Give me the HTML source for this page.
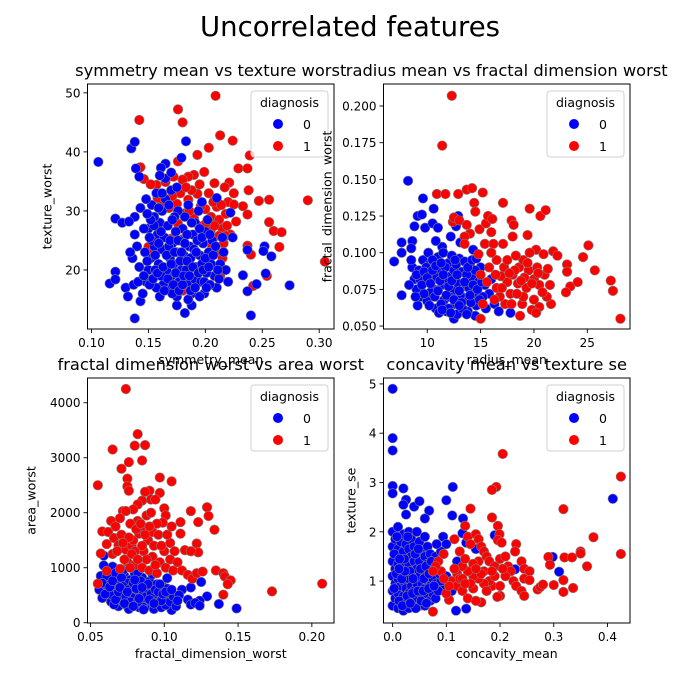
<!DOCTYPE html>
<html><head><meta charset="utf-8">
<style>
html,body{margin:0;padding:0;background:#fff;}
svg{display:block;font-family:"DejaVu Sans","Liberation Sans",sans-serif;}
</style></head>
<body>
<svg id="fig" width="700" height="700" viewBox="0 0 700 700">
<text x="350" y="36" text-anchor="middle" font-size="27.5" fill="#000">Uncorrelated features</text>
</svg>
<script>
// ---------- Panel 1: symmetry_mean vs texture_worst ----------
const p1Blue = [[0.106,38.3],[0.135,40.6],[0.138,41.7],[0.139,37.2],[0.142,35.8],[0.138,29],[0.121,28.7],[0.127,28],[0.133,28.2],[0.116,17.7],[0.121,19.7],[0.121,18.4],[0.130,17],[0.132,15.5],[0.143,14.7],[0.138,11.8],[0.175,14],[0.182,12.7],[0.188,14],[0.183,41.8],[0.179,39],[0.165,38],[0.161,37.3],[0.240,12.3],[0.274,17.4],[0.245,17.6],[0.237,16.4],[0.253,19.4],[0.252,24],[0.251,23.2],[0.258,22.3],[0.237,23.4],[0.233,19.1],[0.224,25.5],[0.222,29.7],[0.21,32.2],[0.197,31.5],
[0.145,16],[0.148,18],[0.15,20],[0.152,22],[0.155,24],[0.158,26],[0.16,28],[0.162,30],[0.165,32],[0.168,17],[0.17,19],[0.172,21],[0.175,23],[0.178,25],[0.18,27],[0.182,29],[0.185,31],[0.188,16],[0.19,18.5],[0.192,20.5],[0.195,22.5],[0.198,24.5],[0.2,26.5],[0.202,28.5],[0.205,21],[0.208,19],[0.21,17],[0.15,27],[0.155,29],[0.157,33],[0.16,15.5],[0.163,17.5],[0.166,20],[0.169,22],[0.171,24.5],[0.174,26.5],[0.176,30],[0.179,20],[0.181,22.5],[0.184,17.5],[0.186,24],[0.189,26],[0.191,28],[0.194,30],[0.196,18],[0.199,16],[0.203,23],[0.206,25],[0.213,21],[0.216,23],[0.22,18],[0.218,20],[0.147,23],[0.153,25],[0.159,21],[0.161,19],[0.164,25.5],[0.167,27.5],[0.173,29],[0.177,18],[0.183,20],[0.187,22],[0.193,25],[0.197,21],[0.201,19.5],[0.157,17],[0.153,31],[0.165,35.5],[0.17,33.5],[0.16,36],[0.175,15.5],[0.185,15],[0.195,15.5],[0.142,20.5],[0.14,24],[0.138,26],[0.136,22],[0.143,30.5],[0.148,32],[0.134,23],[0.137,17.5],[0.141,18],[0.146,27],[0.151,17.5],[0.156,20],[0.162,23.5],[0.168,24],[0.171,16],[0.178,21.5],[0.184,26],[0.19,23.5],[0.199,18],[0.204,17.5],[0.212,18.5],[0.215,25.5],
[0.146,19],[0.149,21.5],[0.151,25.5],[0.154,18.5],[0.156,22.5],[0.158,19.5],[0.159,24.5],[0.161,26.5],[0.163,20.5],[0.164,16.5],[0.166,22.5],[0.167,18.5],[0.169,25],[0.17,21],[0.172,17.5],[0.173,23],[0.174,19.5],[0.176,25],[0.177,16.5],[0.179,23],[0.18,17.5],[0.181,19],[0.182,24.5],[0.184,21.5],[0.186,19],[0.187,16.5],[0.188,28],[0.189,20.5],[0.191,17],[0.192,23],[0.194,19.5],[0.195,27],[0.197,25.5],[0.198,20],[0.2,22],[0.201,17],[0.203,20.5],[0.204,26],[0.207,22.5],[0.209,24],[0.211,20],[0.155,27.5],[0.162,33],[0.168,31],[0.171,28.5],[0.159,30.5],[0.152,28.5],[0.149,29.5],[0.17,36.5],[0.175,34]];
const p1Red = [[0.142,45.4],[0.176,47.2],[0.180,45],[0.209,49.5],[0.213,42.8],[0.224,41.9],[0.203,40.7],[0.239,39.4],[0.176,38.4],[0.193,39.5],[0.143,37.4],[0.146,35.4],[0.229,37.2],[0.237,37.2],[0.290,31.8],[0.305,21.4],[0.256,31.9],[0.247,31.7],[0.238,33.5],[0.233,30.8],[0.237,29.4],[0.227,28.2],[0.256,28.1],[0.260,26.6],[0.267,26.4],[0.265,23.9],[0.237,24.1],[0.240,22.6],[0.254,19],[0.242,17.3],[0.225,33],[0.221,34.8],[0.217,34],[0.208,34.7],[0.199,36.6],[0.190,36.1],[0.185,35.8],[0.180,35.3],[0.172,35.8],[0.165,34.9],[0.157,34.4],[0.152,34.5],[0.175,31.2],[0.185,31.9],[0.193,32.9],[0.200,30.3],[0.205,29],[0.210,30.7],[0.212,28.5],[0.215,27],[0.218,29.5],[0.212,25.8],[0.216,24.5],[0.210,23],[0.205,26.9],[0.198,27.5],[0.190,28.7],[0.182,29.6],[0.176,27.8],[0.170,25.3],[0.180,25.2],[0.150,23.9],[0.155,23.2],[0.213,19],[0.180,16.5],[0.220,31.5],[0.225,31.1],[0.196,30.8],[0.168,30.5],
[0.178,33],[0.188,33.5],[0.195,34.5],[0.203,33],[0.207,31.5],[0.214,31],[0.219,27.5],[0.222,26],[0.208,27.5],[0.201,28],[0.186,30],[0.171,32.5],[0.163,31.5],[0.158,32.2],[0.215,22],[0.218,25.8],[0.206,24],[0.183,34]];
const p1XTicks = [0.10,0.15,0.20,0.25,0.30];
const p1XTickLabels = ["0.10","0.15","0.20","0.25","0.30"];
const p1YTicks = [20,30,40,50];
const p1YTickLabels = ["20","30","40","50"];

// ---------- Panel 2: radius_mean vs fractal_dimension_worst ----------
const p2Blue = [[8.2,0.149],[9.6,0.137],[10.6,0.130],[12.9,0.125],[9.1,0.125],[9.5,0.126],[8.8,0.118],[9.8,0.117],[10.5,0.120],[11.0,0.117],[12.7,0.118],[12.2,0.111],[11.4,0.104],[10.8,0.108],[7.6,0.107],[7.6,0.100],[6.9,0.094],[8.6,0.108],[8.5,0.103],[7.6,0.071],[14.3,0.102],[13.1,0.107],[16.3,0.065],[16.7,0.060],[17.8,0.059],[14.5,0.057],[12.5,0.055],[15.8,0.072],[16.0,0.082],
[8.6,0.090],[8.8,0.082],[9.0,0.075],[9.2,0.088],[9.4,0.070],[9.6,0.095],[9.8,0.080],[10.0,0.067],[10.2,0.092],[10.4,0.085],[10.6,0.075],[10.8,0.062],[11.0,0.097],[11.2,0.088],[11.4,0.078],[11.6,0.068],[11.8,0.060],[12.0,0.093],[12.2,0.084],[12.4,0.074],[12.6,0.065],[12.8,0.058],[13.0,0.096],[13.2,0.087],[13.4,0.077],[13.6,0.068],[13.8,0.060],[14.0,0.092],[14.2,0.083],[14.4,0.072],[14.6,0.064],[14.8,0.080],[15.0,0.090],[15.2,0.070],[15.4,0.078],[9.1,0.064],[9.9,0.090],[10.3,0.073],[10.9,0.083],[11.3,0.065],[11.7,0.090],[12.1,0.070],[12.5,0.088],[12.9,0.079],[13.3,0.062],[13.7,0.085],[14.1,0.066],[10.1,0.100],[11.5,0.100],[12.3,0.098],[13.5,0.094],[8.3,0.078],[8.5,0.095],[9.3,0.082],[10.7,0.070],[11.9,0.080],[13.1,0.071],[14.5,0.088],[15.5,0.062],[11.1,0.059],[12.7,0.092],[14.9,0.068],[10.5,0.095],[12.0,0.062],[13.9,0.076],
[9.0,0.085],[9.5,0.078],[9.7,0.087],[10.0,0.083],[10.3,0.079],[10.5,0.088],[10.8,0.091],[11.0,0.074],[11.2,0.081],[11.5,0.085],[11.8,0.071],[12.0,0.077],[12.3,0.081],[12.5,0.068],[12.8,0.085],[13.0,0.074],[13.2,0.066],[13.5,0.080],[13.8,0.090],[14.0,0.071],[14.3,0.078],[14.7,0.075],[10.2,0.064],[11.4,0.061],[12.2,0.059],[13.0,0.064],[13.7,0.058],[9.7,0.072],[11.3,0.093],[12.6,0.095],[14.2,0.095],[8.9,0.070],[15.1,0.080],[14.6,0.096]];
const p2Red = [[12.3,0.207],[11.4,0.173],[10.9,0.140],[11.7,0.140],[12.9,0.140],[13.7,0.143],[14.2,0.144],[15.2,0.141],[14.4,0.134],[14.5,0.128],[12.4,0.121],[12.5,0.124],[13.0,0.122],[13.7,0.119],[14.0,0.113],[13.5,0.111],[14.9,0.116],[15.5,0.120],[15.7,0.125],[16.1,0.123],[16.0,0.114],[15.4,0.106],[16.2,0.106],[14.8,0.099],[13.5,0.106],[17.1,0.134],[17.9,0.122],[18.1,0.119],[18.0,0.111],[17.1,0.106],[19.4,0.112],[19.6,0.130],[20.6,0.125],[21.1,0.129],[20.2,0.102],[20.9,0.099],[21.8,0.101],[22.2,0.098],[23.1,0.092],[23.1,0.087],[24.6,0.097],[25.1,0.105],[25.7,0.088],[23.4,0.077],[23.0,0.073],[24.1,0.080],[27.2,0.081],[27.4,0.074],[28.1,0.055],[21.6,0.065],[21.2,0.070],[20.5,0.063],[19.8,0.061],[20.2,0.059],[18.7,0.057],[18.9,0.065],[17.3,0.065],[16.8,0.070],[16.5,0.076],[17.5,0.080],[18.0,0.085],[18.6,0.090],[19.0,0.095],[19.5,0.088],[20.0,0.082],[20.5,0.078],[21.0,0.085],[19.3,0.076],[18.5,0.079],[17.2,0.090],[16.5,0.095],[15.8,0.090],[15.0,0.085],[15.2,0.065],[15.0,0.055],[21.3,0.089],[20.3,0.090],[19.6,0.100],[18.3,0.098],[16.0,0.100],[17.8,0.072],[19.0,0.070],[20.8,0.073],[18.2,0.088],[16.9,0.084],
[17.0,0.076],[17.7,0.086],[18.4,0.072],[19.1,0.083],[19.8,0.079],[20.4,0.086],[16.4,0.085],[17.5,0.095],[18.8,0.081],[20.0,0.068],[21.5,0.078],[15.6,0.080],[16.3,0.068],[19.4,0.093],[17.9,0.065]];
const p2XTicks = [10,15,20,25];
const p2XTickLabels = ["10","15","20","25"];
const p2YTicks = [0.050,0.075,0.100,0.125,0.150,0.175,0.200];
const p2YTickLabels = ["0.050","0.075","0.100","0.125","0.150","0.175","0.200"];

// ---------- Panel 3: fractal_dimension_worst vs area_worst ----------
const p3Blue = [[0.059,1220],[0.059,1040],[0.065,1020],[0.102,810],[0.125,740],[0.118,640],[0.129,480],[0.124,400],[0.137,340],[0.149,260],[0.116,420],[0.118,330],[0.121,360],[0.124,310],[0.107,440],[0.105,230],[0.112,600],
[0.056,600],[0.057,850],[0.058,450],[0.060,700],[0.062,550],[0.063,800],[0.064,380],[0.066,650],[0.067,900],[0.068,480],[0.069,300],[0.070,750],[0.071,580],[0.072,400],[0.073,850],[0.074,650],[0.075,300],[0.076,500],[0.077,780],[0.078,350],[0.079,600],[0.080,900],[0.081,450],[0.082,700],[0.083,280],[0.084,550],[0.085,820],[0.086,400],[0.087,650],[0.088,300],[0.089,500],[0.090,750],[0.091,380],[0.092,600],[0.093,250],[0.094,450],[0.095,700],[0.096,350],[0.097,550],[0.098,280],[0.099,650],[0.100,450],[0.101,320],[0.103,550],[0.104,380],[0.106,480],[0.108,300],[0.110,500],[0.065,500],[0.070,420],[0.075,720],[0.080,560],[0.085,330],[0.090,620],[0.095,480],[0.061,850],[0.068,620],[0.073,540],[0.078,460],[0.083,640],[0.088,440],[0.093,520],[0.098,400],[0.072,950],[0.082,920],[0.092,880],[0.066,330],[0.076,250],[0.086,240],
[0.058,720],[0.060,520],[0.063,650],[0.065,760],[0.067,420],[0.069,560],[0.071,820],[0.072,660],[0.074,480],[0.076,600],[0.077,380],[0.079,720],[0.081,620],[0.082,380],[0.084,760],[0.086,560],[0.087,460],[0.089,700],[0.091,520],[0.094,600],[0.096,560],[0.099,520],[0.102,620],[0.070,640],[0.075,560],[0.080,780],[0.085,640],[0.090,420],[0.073,350],[0.079,300],[0.083,440],[0.093,350],[0.097,700],[0.101,560],[0.105,600],[0.109,400]];
const p3Red = [[0.074,4250],[0.082,3430],[0.080,3220],[0.087,3230],[0.065,3150],[0.071,2800],[0.076,2920],[0.085,2950],[0.075,2620],[0.075,2480],[0.076,2400],[0.055,2500],[0.097,2640],[0.105,2570],[0.090,2400],[0.087,2380],[0.097,2360],[0.091,2240],[0.094,2240],[0.085,2220],[0.082,2150],[0.079,2060],[0.072,2030],[0.074,2030],[0.129,2100],[0.130,1940],[0.118,2030],[0.123,1830],[0.111,1830],[0.100,2080],[0.101,1950],[0.099,1820],[0.105,1750],[0.134,1690],[0.111,1620],[0.122,1440],[0.114,1320],[0.123,1280],[0.118,1300],[0.058,1660],[0.062,1650],[0.064,1850],[0.067,1750],[0.066,1540],[0.061,1430],[0.057,1260],[0.065,1250],[0.069,1410],[0.074,1330],[0.078,1400],[0.079,1500],[0.083,1620],[0.087,1720],[0.092,1650],[0.096,1600],[0.089,1500],[0.086,1300],[0.092,1200],[0.097,1100],[0.100,1300],[0.104,1450],[0.104,1150],[0.101,1000],[0.106,950],[0.112,950],[0.116,870],[0.119,800],[0.122,900],[0.126,930],[0.135,950],[0.140,900],[0.141,840],[0.145,770],[0.143,700],[0.140,510],[0.173,570],[0.207,710],[0.055,710],[0.061,940],[0.070,980],[0.075,1100],[0.080,1050],[0.085,1000],[0.090,950],[0.095,900],[0.082,1850],[0.077,1800],[0.070,1900],[0.088,1950],[0.095,1800],[0.085,1400],[0.080,1300],[0.073,1150],[0.078,1250],
[0.071,1600],[0.076,1550],[0.081,1700],[0.084,1800],[0.090,1750],[0.093,1400],[0.088,1150],[0.082,1150],[0.077,1000],[0.094,1050],[0.098,1400],[0.102,1600],[0.107,1300],[0.109,1100],[0.068,1300],[0.072,1450],[0.087,1600],[0.091,2000]];
const p3XTicks = [0.05,0.10,0.15,0.20];
const p3XTickLabels = ["0.05","0.10","0.15","0.20"];
const p3YTicks = [0,1000,2000,3000,4000];
const p3YTickLabels = ["0","1000","2000","3000","4000"];

// ---------- Panel 4: concavity_mean vs texture_se ----------
const p4Blue = [[0,4.9],[0,3.9],[0,3.65],[0,2.93],[0,2.78],[0.02,2.88],[0.025,2.65],[0.02,2.55],[0.04,2.51],[0.05,2.62],[0.025,2.35],[0.068,2.43],[0.06,2.27],[0.1,2.64],[0.112,2.91],[0.111,2.33],[0.131,2.27],[0.13,1.97],[0.137,1.78],[0.155,1.65],[0.155,1.21],[0.19,1.93],[0.228,1.24],[0.298,1.49],[0.31,1.19],[0.41,2.67],[0.118,0.4],[0.137,0.44],[0.094,1.9],[0.1,1.75],[0.12,1.4],[0.1,1.1],[0.11,0.8],[0.095,0.9],
[0,0.5],[0,0.8],[0,1.1],[0,1.4],[0,1.7],[0,2.0],[0.005,0.65],[0.005,0.95],[0.005,1.25],[0.005,1.55],[0.005,1.85],[0.01,0.45],[0.01,0.75],[0.01,1.05],[0.01,1.35],[0.01,1.65],[0.01,2.1],[0.015,0.6],[0.015,0.9],[0.015,1.2],[0.015,1.5],[0.015,1.8],[0.02,0.4],[0.02,0.7],[0.02,1.0],[0.02,1.3],[0.02,1.6],[0.02,1.95],[0.025,0.55],[0.025,0.85],[0.025,1.15],[0.025,1.45],[0.025,1.75],[0.03,0.45],[0.03,0.75],[0.03,1.05],[0.03,1.35],[0.03,1.65],[0.03,2.0],[0.035,0.6],[0.035,0.9],[0.035,1.2],[0.035,1.5],[0.035,1.85],[0.04,0.5],[0.04,0.8],[0.04,1.1],[0.04,1.4],[0.04,1.7],[0.045,0.65],[0.045,0.95],[0.045,1.25],[0.045,1.55],[0.045,2.0],[0.05,0.5],[0.05,0.8],[0.05,1.1],[0.05,1.4],[0.05,1.8],[0.055,0.65],[0.055,0.95],[0.055,1.25],[0.055,1.6],[0.06,0.5],[0.06,0.85],[0.06,1.15],[0.06,1.5],[0.06,1.9],[0.065,0.7],[0.065,1.0],[0.065,1.35],[0.065,1.7],[0.07,0.6],[0.07,0.9],[0.07,1.2],[0.07,1.55],[0.075,0.75],[0.075,1.05],[0.08,0.65],[0.08,0.95],[0.08,1.5],[0.085,0.8],[0.09,1.0],[0.09,1.6],
[0.003,0.85],[0.007,1.15],[0.012,0.6],[0.017,1.05],[0.022,1.45],[0.027,0.7],[0.032,1.2],[0.037,0.75],[0.042,1.55],[0.047,0.8],[0.052,1.25],[0.057,0.8],[0.062,1.3],[0.067,0.85],[0.072,1.4],[0.077,0.9],[0.003,1.55],[0.008,1.9],[0.013,1.45],[0.018,0.5],[0.028,1.9],[0.038,1.05],[0.048,1.65],[0.058,1.05],[0.068,1.15],[0.078,1.25],[0.043,0.45],[0.053,0.6],[0.063,0.55],[0.033,0.55],[0.023,1.2],[0.012,1.25],[0.087,1.15],[0.082,1.75]];
const p4Red = [[0.205,3.58],[0.193,2.91],[0.185,2.85],[0.425,3.12],[0.318,2.46],[0.145,2.47],[0.185,2.29],[0.196,2.12],[0.199,1.95],[0.196,1.83],[0.203,1.78],[0.23,1.75],[0.228,1.6],[0.24,1.4],[0.245,1.25],[0.255,1.2],[0.245,1.05],[0.255,1.02],[0.27,0.83],[0.275,0.88],[0.28,0.93],[0.3,0.92],[0.318,1.02],[0.318,0.78],[0.336,0.86],[0.29,1.49],[0.293,1.33],[0.32,1.48],[0.334,1.48],[0.35,1.6],[0.35,1.56],[0.362,1.3],[0.374,1.89],[0.425,1.55],[0.135,2.12],[0.14,1.9],[0.155,1.95],[0.16,1.85],[0.165,1.7],[0.17,1.6],[0.175,1.5],[0.18,1.4],[0.19,1.3],[0.2,1.45],[0.21,1.5],[0.215,1.3],[0.22,1.2],[0.225,1.0],[0.23,0.9],[0.24,0.8],[0.245,0.7],[0.2,0.7],[0.195,0.68],[0.185,0.9],[0.18,1.0],[0.17,0.95],[0.16,1.05],[0.15,1.1],[0.14,1.2],[0.13,1.3],[0.12,1.15],[0.11,1.0],[0.12,0.9],[0.13,0.8],[0.14,0.65],[0.165,0.57],[0.155,0.6],[0.105,0.62],[0.085,1.4],[0.09,1.2],[0.08,1.3],[0.075,1.2],[0.075,0.38],[0.095,1.55],[0.125,1.6],[0.135,1.45],[0.115,1.85],[0.145,1.75],[0.21,1.1],[0.2,0.9],[0.16,1.4],[0.1,0.75],[0.125,1.05],[0.15,0.85],[0.17,1.2],
[0.13,1.05],[0.145,0.95],[0.15,1.35],[0.165,1.15],[0.175,0.8],[0.19,1.1],[0.205,1.25],[0.115,1.25],[0.105,0.9],[0.095,1.05],[0.135,0.95],[0.155,1.25],[0.185,1.2]];
const p4XTicks = [0.0,0.1,0.2,0.3,0.4];
const p4XTickLabels = ["0.0","0.1","0.2","0.3","0.4"];
const p4YTicks = [1,2,3,4,5];
const p4YTickLabels = ["1","2","3","4","5"];

const NS = "http://www.w3.org/2000/svg";
const fig = document.getElementById("fig");
function mk(tag, attrs, parent, txt){
  const e = document.createElementNS(NS, tag);
  for (const k in attrs) e.setAttribute(k, attrs[k]);
  if (txt !== undefined) e.textContent = txt;
  (parent||fig).appendChild(e);
  return e;
}

function panel(cfg){
  const {L,T,W,H,xmin,xmax,ymin,ymax} = cfg;
  const sx = v => L + (v - xmin) / (xmax - xmin) * W;
  const sy = v => T + H - (v - ymin) / (ymax - ymin) * H;
  const g = mk("g", {});
  
  
  const clipId = cfg.name + "-clip";
  const cp = mk("clipPath", {id: clipId}, g);
  mk("rect", {x:L, y:T, width:W, height:H}, cp);
  const pts = mk("g", {"clip-path": "url(#" + clipId + ")"}, g);
  
  
  const draw = (arr, color, nm) => {
    arr.forEach(p => {
      const c = mk("circle", {cx: sx(p[0]), cy: sy(p[1]), r: 4.8, fill: color, stroke: "#808080", "stroke-width": 0.6}, pts);
      
      
    });
  };
  draw(cfg.first, cfg.firstColor, cfg.firstName);
  draw(cfg.second, cfg.secondColor, cfg.secondName);
  const fr = mk("rect", {x:L, y:T, width:W, height:H, fill:"none", stroke:"#000", "stroke-width":1}, g);
  
  
  cfg.xt.forEach((v,i) => {
    const x = sx(v);
    mk("line", {x1:x, x2:x, y1:T+H, y2:T+H+4, stroke:"#000", "stroke-width":0.9}, g);
    const t = mk("text", {x:x, y:T+H+18, "text-anchor":"middle", "font-size":12}, g, cfg.xl[i]);
    
    
  });
  cfg.yt.forEach((v,i) => {
    const y = sy(v);
    mk("line", {x1:L-4, x2:L, y1:y, y2:y, stroke:"#000", "stroke-width":0.9}, g);
    const t = mk("text", {x:L-7, y:y+4.5, "text-anchor":"end", "font-size":12}, g, cfg.yl[i]);
    
    
  });
  const xt = mk("text", {x:L+W/2, y:T+H+35, "text-anchor":"middle", "font-size":12.5}, g, cfg.xlabel);
  
  
  const yx = L - cfg.ylabOff, yy = T+H/2;
  const yt = mk("text", {x:yx, y:yy, "text-anchor":"middle", "font-size":12.5, transform:"rotate(-90 "+yx+" "+yy+")"}, g, cfg.ylabel);
  
  
  const tt = mk("text", {x:L+W/2, y:T-8, "text-anchor":"middle", "font-size":16.3}, g, cfg.title);
  
  
  // legend
  const lg = mk("g", {}, g);
  
  
  const lx = L + W - 83, ly = T + 7;
  mk("rect", {x:lx, y:ly, width:77, height:66, rx:3, fill:"#fff", "fill-opacity":0.8, stroke:"#d0d0d0", "stroke-width":1}, lg);
  mk("text", {x:lx+38.5, y:ly+16, "text-anchor":"middle", "font-size":12.5}, lg, "diagnosis");
  [["#0000ff","0"],["#ff0000","1"]].forEach((e,i) => {
    const ey = ly + 33 + i*22;
    const le = mk("g", {}, lg);
    
    
    mk("circle", {cx:lx+27, cy:ey, r:5, fill:e[0], stroke:"none"}, le);
    mk("text", {x:lx+56, y:ey+5, "text-anchor":"middle", "font-size":12.5}, le, e[1]);
  });
}

panel({name:"panel-symmetry-vs-texture", L:87.5, T:84, W:246.5, H:245, xmin:0.0965, xmax:0.313, ymin:10, ymax:51.5,
  first:p1Red, firstColor:"#ff0000", firstName:"point-malignant", second:p1Blue, secondColor:"#0000ff", secondName:"point-benign",
  xt:p1XTicks, xl:p1XTickLabels, yt:p1YTicks, yl:p1YTickLabels, xlabel:"symmetry_mean", ylabel:"texture_worst", ylabOff:36, title:"symmetry mean vs texture worst"});
panel({name:"panel-radius-vs-fractal", L:383.5, T:84, W:246.5, H:245, xmin:5.9, xmax:29.0, ymin:0.048, ymax:0.215,
  first:p2Blue, firstColor:"#0000ff", firstName:"point-benign", second:p2Red, secondColor:"#ff0000", secondName:"point-malignant",
  xt:p2XTicks, xl:p2XTickLabels, yt:p2YTicks, yl:p2YTickLabels, xlabel:"radius_mean", ylabel:"fractal_dimension_worst", ylabOff:52, title:"radius mean vs fractal dimension worst"});
panel({name:"panel-fractal-vs-area", L:87.5, T:378, W:246.5, H:245, xmin:0.048, xmax:0.215, ymin:-5, ymax:4450,
  first:p3Blue, firstColor:"#0000ff", firstName:"point-benign", second:p3Red, secondColor:"#ff0000", secondName:"point-malignant",
  xt:p3XTicks, xl:p3XTickLabels, yt:p3YTicks, yl:p3YTickLabels, xlabel:"fractal_dimension_worst", ylabel:"area_worst", ylabOff:52, title:"fractal dimension worst vs area worst"});
panel({name:"panel-concavity-vs-texture-se", L:383.5, T:378, W:246.5, H:245, xmin:-0.017, xmax:0.442, ymin:0.15, ymax:5.12,
  first:p4Blue, firstColor:"#0000ff", firstName:"point-benign", second:p4Red, secondColor:"#ff0000", secondName:"point-malignant",
  xt:p4XTicks, xl:p4XTickLabels, yt:p4YTicks, yl:p4YTickLabels, xlabel:"concavity_mean", ylabel:"texture_se", ylabOff:28, title:"concavity mean vs texture se"});
</script>
</body></html>
